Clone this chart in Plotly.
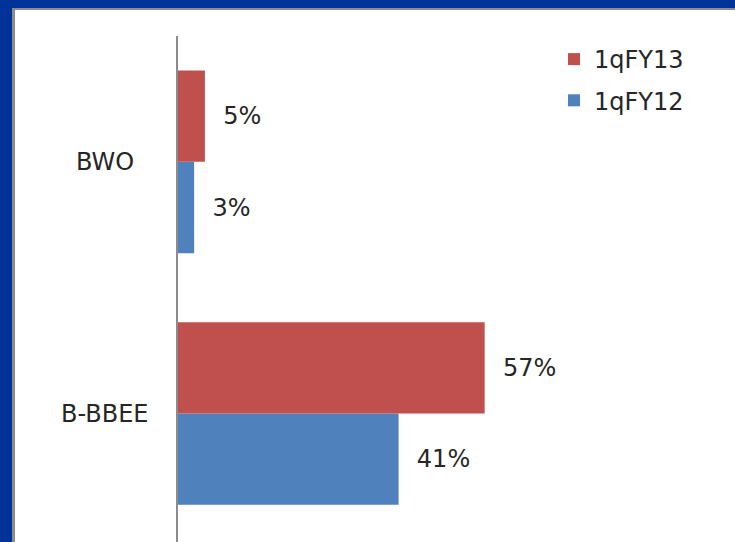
import plotly.graph_objects as go

categories = ["B-BBEE", "BWO"]
fy12_values = [41, 3]
fy13_values = [57, 5]
series_names = ["1qFY12", "1qFY13"]

W, H = 735, 542
L, R, T, B = 178, 19, 36, 0
PW, PH = W - L - R, H - T - B

def px_x(px):
    return (px - L) / PW

def px_y(py):
    return (H - B - py) / PH

FONT = "DejaVu Sans"
TXT = "#262626"
RED = "#C0504D"
BLUE = "#4F81BD"
FS = 24

fig = go.Figure()
fig.add_trace(go.Bar(
    y=categories, x=fy12_values, name=series_names[0], orientation="h",
    marker=dict(color=BLUE, line=dict(width=0)),
    texttemplate="\u00a0\u00a0%{x}%", textposition="outside",
    textfont=dict(family=FONT, size=FS, color=TXT), cliponaxis=False,
    legendgroup="a", legendrank=2,
))
fig.add_trace(go.Bar(
    y=categories, x=fy13_values, name=series_names[1], orientation="h",
    marker=dict(color=RED, line=dict(width=0)),
    texttemplate="\u00a0\u00a0%{x}%", textposition="outside",
    textfont=dict(family=FONT, size=FS, color=TXT), cliponaxis=False,
    legendgroup="b", legendrank=1,
))

shapes = [
    dict(type="rect", xref="paper", yref="paper", layer="below",
         x0=px_x(12), x1=px_x(740), y0=px_y(545), y1=px_y(8),
         fillcolor="#8c8c8c", line=dict(width=0)),
    dict(type="rect", xref="paper", yref="paper", layer="below",
         x0=px_x(15), x1=px_x(740), y0=px_y(545), y1=px_y(10),
         fillcolor="white", line=dict(width=0)),
]

annotations = [
    dict(x=px_x(105), xref="paper", y=c, yref="y", text=c, showarrow=False,
         xanchor="center", yanchor="middle",
         font=dict(family=FONT, size=FS, color=TXT))
    for c in categories
]

fig.update_layout(
    width=W, height=H,
    margin=dict(l=L, r=R, t=T, b=B, pad=0),
    paper_bgcolor="#003399",
    plot_bgcolor="rgba(0,0,0,0)",
    barmode="group", bargap=0.275, bargroupgap=0,
    showlegend=True,
    legend=dict(x=px_x(554), y=px_y(37), xanchor="left", yanchor="top",
                traceorder="grouped", tracegroupgap=7,
                bgcolor="rgba(0,0,0,0)",
                font=dict(family=FONT, size=FS, color=TXT)),
    xaxis=dict(range=[0, 100], visible=False, fixedrange=True),
    yaxis=dict(range=[-0.51, 1.5], showticklabels=False, showgrid=False,
               zeroline=False, showline=True, linecolor="#8c8c8c", linewidth=2,
               ticks=""),
    shapes=shapes,
    annotations=annotations,
)

fig.write_html("out.html")
